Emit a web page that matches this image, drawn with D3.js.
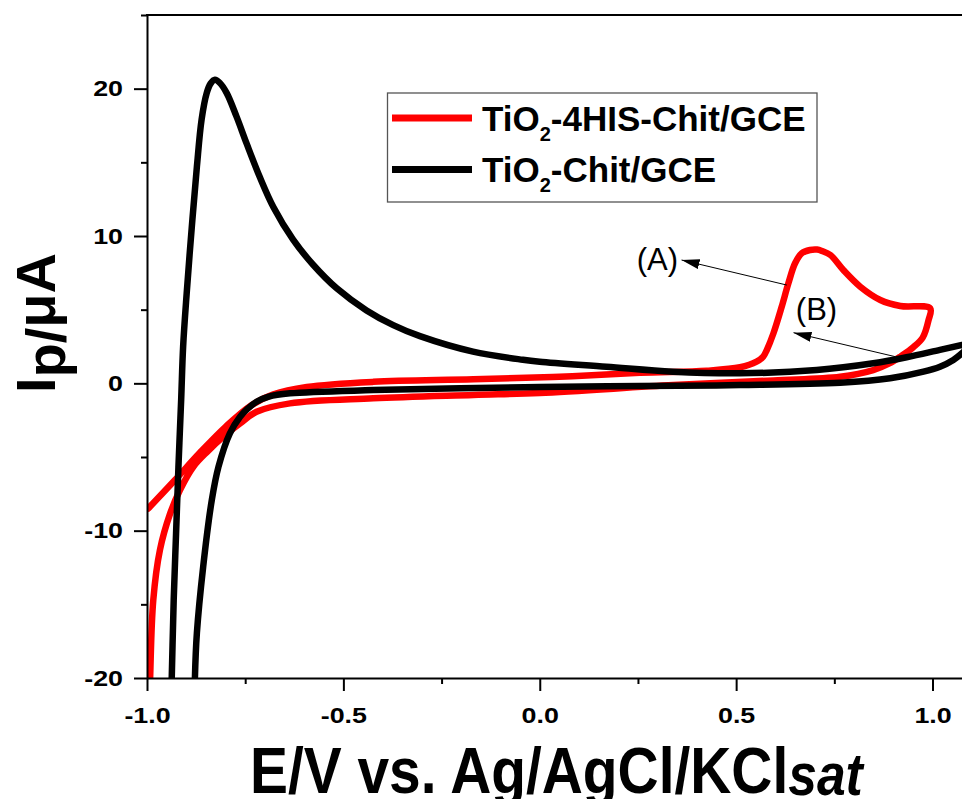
<!DOCTYPE html>
<html>
<head>
<meta charset="utf-8">
<script src="https://cdn.jsdelivr.net/npm/d3@7"></script>
<style>
  body { margin:0; background:#fff; }
  svg { display:block; }
</style>
</head>
<body>
<div id="graphWrapper"></div>
<script>
//data - potential (V) and current (uA), in scan order
const hisE = [-0.997, -0.93, -0.865, -0.80, -0.735, -0.678, -0.593, -0.424, -0.169, 0.05, 0.255, 0.425, 0.510, 0.552,
  0.569, 0.578, 0.595, 0.616, 0.633, 0.650, 0.667, 0.688, 0.706, 0.719, 0.740, 0.773, 0.816, 0.867, 0.918, 0.994,
  0.990, 0.975, 0.951, 0.920, 0.890, 0.849, 0.765, 0.595, 0.340, 0.000, -0.169, -0.424, -0.636, -0.721, -0.763,
  -0.806, -0.845, -0.882, -0.916, -0.941, -0.967, -0.984, -0.992, -0.997];
const hisI = [-8.5, -6.6, -4.7, -2.95, -1.5, -0.75, -0.25, 0.10, 0.27, 0.45, 0.72, 0.86, 1.09, 1.47,
  1.81, 2.26, 3.40, 5.20, 6.79, 8.15, 8.83, 9.05, 9.08, 8.98, 8.71, 7.69, 6.56, 5.66, 5.25, 5.09,
  4.30, 3.10, 2.45, 1.85, 1.35, 0.90, 0.45, 0.20, -0.12, -0.65, -0.79, -1.02, -1.36, -1.93, -2.72,
  -3.63, -4.60, -5.66, -7.24, -8.83, -11.3, -14.7, -20.0, -26];

const chitE = [-0.942, -0.937, -0.932, -0.926, -0.920, -0.913, -0.908, -0.899, -0.886, -0.873, -0.861, -0.848, -0.838,
  -0.827, -0.815, -0.797, -0.772, -0.746, -0.712, -0.678, -0.628, -0.577, -0.517, -0.441, -0.373, -0.305, -0.170,
  -0.043, 0.000, 0.170, 0.339, 0.510, 0.705, 0.849, 0.934, 1.019, 1.075, 1.100, 1.075, 1.053, 1.019, 0.977, 0.892,
  0.765, 0.510, 0.255, 0.000, -0.424, -0.636, -0.690, -0.721, -0.745, -0.763, -0.789, -0.818, -0.835, -0.857,
  -0.873, -0.878, -0.880];
const chitI = [-25, -20.0, -14.7, -10.2, -5.7, -1.1, 2.5, 6.1, 10.6, 14.7, 17.9, 19.7, 20.35,
  20.6, 20.4, 19.7, 18.1, 16.25, 13.95, 11.95, 9.75, 8.05, 6.45, 4.95, 3.95, 3.2, 2.15,
  1.6, 1.47, 1.13, 0.79, 0.68, 0.90, 1.36, 1.77, 2.27, 2.60, 2.75, 2.04, 1.59, 1.13, 0.79, 0.34,
  0.04, -0.12, -0.18, -0.25, -0.46, -0.68, -0.90, -1.25, -1.75, -2.27, -3.39, -5.66, -7.92, -12.45,
  -16.95, -20.0, -25];

const seriesNames = ['-4HIS-Chit/GCE', '-Chit/GCE'];   //each label is "TiO" + subscript 2 + this
const seriesColors = ['#ff0000', '#000000'];

const xTicks = [-1.0, -0.5, 0.0, 0.5, 1.0];
const xMinorTicks = [-0.75, -0.25, 0.25, 0.75];
const yTicks = [-20, -10, 0, 10, 20];
const yMinorTicks = [-15, -5, 5, 15, 25];

//annotation labels with arrow tail / tip in data units
const noteLabels = ['(A)', '(B)'];
const noteLabelPos = [[0.352, 7.7], [0.652, 4.3]];
const arrowTails = [[0.629, 6.67], [0.905, 1.81]];
const arrowTips = [[0.361, 8.37], [0.646, 3.44]];

const CONSTANTS = {
    WIDTH:962,
    HEIGHT:799,
    LEFT:147,      //left axis position
    RIGHT:971.8,   //right end of the x range (past the picture edge)
    TOP:15,
    BOTTOM:678,
    TICK_STRETCH:1.22, //tick labels are wider than Arial
    FONT:"'Liberation Sans', Arial, Helvetica, sans-serif"
};

function main(){
    let svg = d3.select('#graphWrapper')
        .append('svg')
        .attr('width',CONSTANTS.WIDTH)
        .attr('height',CONSTANTS.HEIGHT)
        .style('font-family',CONSTANTS.FONT);

    let scales = buildScales();
    buildLines(svg,scales);
    buildAxis(svg,scales);
    buildNotes(svg,scales);
    buildLegend(svg);
    buildTitles(svg);
}

function buildScales(){
    let x = d3.scaleLinear().domain([-1,1.1]).range([CONSTANTS.LEFT,CONSTANTS.RIGHT]);
    let y = d3.scaleLinear().domain([-20,25]).range([CONSTANTS.BOTTOM,CONSTANTS.TOP]);
    return {x:x,y:y};
}

function buildAxis(svg,scales){
    let k = CONSTANTS.TICK_STRETCH;
    let xAxis = d3.axisBottom(scales.x).tickValues(xTicks).tickFormat(d=>d.toFixed(1))
        .tickSizeInner(13).tickSizeOuter(0).tickPadding(16);
    let xMinor = d3.axisBottom(scales.x).tickValues(xMinorTicks).tickFormat('').tickSize(6);
    let yAxis = d3.axisLeft(scales.y).tickValues(yTicks).tickFormat(d=>String(d))
        .tickSizeInner(13).tickSizeOuter(0).tickPadding(11);
    let yMinor = d3.axisLeft(scales.y).tickValues(yMinorTicks).tickFormat('').tickSize(6);

    let gx = svg.append('g').attr('id','x-axis')
        .attr('transform','translate(0,'+CONSTANTS.BOTTOM+')').call(xAxis);
    svg.append('g').attr('transform','translate(0,'+CONSTANTS.BOTTOM+')').call(xMinor)
        .select('.domain').remove();
    let gy = svg.append('g').attr('id','y-axis')
        .attr('transform','translate('+CONSTANTS.LEFT+',0)').call(yAxis);
    svg.append('g').attr('transform','translate('+CONSTANTS.LEFT+',0)').call(yMinor)
        .select('.domain').remove();

    svg.selectAll('.domain, .tick line').attr('stroke','#000').attr('stroke-width',2);

    [gx,gy].forEach(g=>{
        g.attr('font-family',CONSTANTS.FONT).attr('font-size',22).attr('font-weight','bold');
        g.selectAll('text').attr('fill','#000');
    });
    //widen the labels; the y labels keep their right edge
    gx.selectAll('text').attr('transform','scale('+k+',1)');
    gy.selectAll('text')
        .attr('x',function(){ return +d3.select(this).attr('x')/k; })
        .attr('transform','scale('+k+',1)');

    //top frame line
    svg.append('line')
        .attr('x1',CONSTANTS.LEFT-1).attr('x2',CONSTANTS.RIGHT)
        .attr('y1',CONSTANTS.TOP).attr('y2',CONSTANTS.TOP)
        .attr('stroke','#000').attr('stroke-width',2);
}

function buildLines(svg,scales){
    svg.append('clipPath').attr('id','plotClip')
        .append('rect')
        .attr('x',CONSTANTS.LEFT).attr('y',CONSTANTS.TOP)
        .attr('width',CONSTANTS.RIGHT-CONSTANTS.LEFT)
        .attr('height',CONSTANTS.BOTTOM-CONSTANTS.TOP);

    let line = d3.line()
        .x(d=>scales.x(d[0]))
        .y(d=>scales.y(d[1]))
        .curve(d3.curveCatmullRom.alpha(0.5));

    let series = [d3.zip(hisE,hisI), d3.zip(chitE,chitI)];

    svg.append('g').attr('clip-path','url(#plotClip)')
        .selectAll('path')
        .data(series)
        .enter()
        .append('path')
        .attr('d',line)
        .attr('fill','none')
        .attr('stroke',(d,i)=>seriesColors[i])
        .attr('stroke-width',6.5)
        .attr('stroke-linejoin','round')
        .attr('stroke-linecap','round');
}

function buildNotes(svg,scales){
    svg.append('defs').append('marker')
        .attr('id','arrowHead')
        .attr('markerUnits','userSpaceOnUse')
        .attr('viewBox','0 0 18 10')
        .attr('markerWidth',18).attr('markerHeight',10)
        .attr('refX',18).attr('refY',5)
        .attr('orient','auto')
        .append('path').attr('d','M0,0 L18,5 L0,10 Z').attr('fill','#000');

    svg.selectAll('.arrow')
        .data(arrowTails)
        .enter()
        .append('line')
        .attr('class','arrow')
        .attr('x1',d=>scales.x(d[0])).attr('y1',d=>scales.y(d[1]))
        .attr('x2',(d,i)=>scales.x(arrowTips[i][0])).attr('y2',(d,i)=>scales.y(arrowTips[i][1]))
        .attr('stroke','#000').attr('stroke-width',1)
        .attr('marker-end','url(#arrowHead)');

    svg.selectAll('.note')
        .data(noteLabels)
        .enter()
        .append('text')
        .attr('class','note')
        .attr('x',(d,i)=>scales.x(noteLabelPos[i][0]))
        .attr('y',(d,i)=>scales.y(noteLabelPos[i][1]))
        .attr('text-anchor',(d,i)=>i==0?'end':'start')
        .attr('font-size',31)
        .attr('fill','#000')
        .text(d=>d);
}

function buildLegend(svg){
    let g = svg.append('g').attr('id','legend');
    g.append('rect')
        .attr('x',387.5).attr('y',93)
        .attr('width',429.5).attr('height',109)
        .attr('fill','#fff').attr('stroke','#555').attr('stroke-width',1.3);

    seriesNames.forEach((name,i)=>{
        let yPos = 118 + i*51.5;
        g.append('line')
            .attr('x1',392).attr('x2',472)
            .attr('y1',yPos).attr('y2',yPos)
            .attr('stroke',seriesColors[i]).attr('stroke-width',7);
        let t = g.append('text')
            .attr('x',482).attr('y',yPos+12.5)
            .attr('font-size',35).attr('font-weight','bold').attr('fill','#000');
        t.append('tspan').text('TiO');
        t.append('tspan').attr('font-size',20).attr('dy',10).text('2');
        t.append('tspan').attr('dy',-10).text(name);
    });
}

function buildTitles(svg){
    //x title, the original letters are tall and narrow
    let xt = svg.append('text')
        .attr('transform','translate(250,793) scale(0.875,1)')
        .attr('font-size',65).attr('font-weight','bold').attr('fill','#000');
    xt.append('tspan').text('E/V vs. Ag/AgCl/KCl');
    xt.append('tspan').attr('font-size',59).attr('font-style','italic').attr('dy',2).text('sat');

    //y title
    let yt = svg.append('text')
        .attr('transform','translate(55,393) rotate(-90)')
        .attr('font-size',56).attr('font-weight','bold').attr('fill','#000');
    yt.append('tspan').text('I');
    yt.append('tspan').attr('dy',10).text('p/');
    yt.append('tspan').attr('dy',-10).text('\u03bcA');
}

main();
</script>
</body>
</html>
